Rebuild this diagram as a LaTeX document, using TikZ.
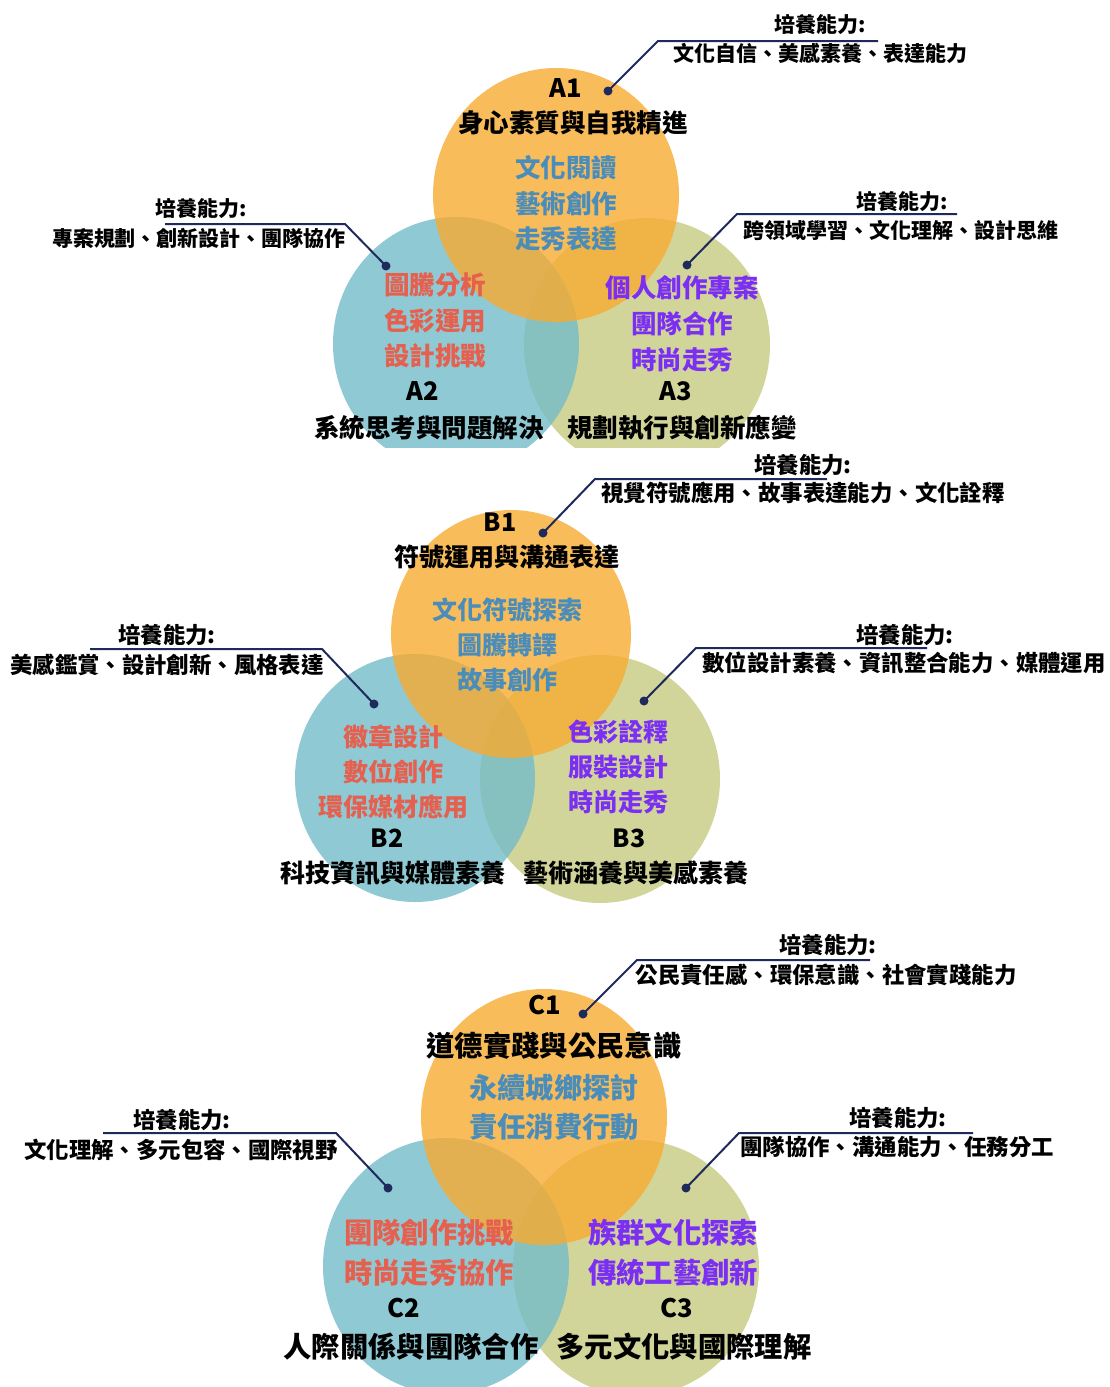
\documentclass[tikz,border=0pt]{standalone}
\usepackage{fontspec}
\setmainfont{Noto Sans CJK TC}
\definecolor{corange}{HTML}{F8AB31}
\definecolor{cblue}{HTML}{73BBC9}
\definecolor{cgreen}{HTML}{C7CB81}
\definecolor{tblue}{HTML}{4A8DBA}
\definecolor{tred}{HTML}{E5604E}
\definecolor{tpurple}{HTML}{7B2FF2}
\definecolor{navy}{HTML}{1E2A5C}
\begin{document}
\begin{tikzpicture}[x=1pt,y=-1pt,
  circ/.style={fill opacity=0.8},
  hd/.style={font=\fontsize{25.5}{30}\selectfont\bfseries, inner sep=0pt},
  hdb/.style={font=\fontsize{25}{30}\selectfont\bfseries, inner sep=0pt},
  hdc/.style={font=\fontsize{28.3}{34}\selectfont\bfseries, inner sep=0pt},
  capt/.style={font=\fontsize{21}{25}\selectfont\bfseries, inner sep=0pt},
  captb/.style={font=\fontsize{22.4}{27}\selectfont\bfseries, inner sep=0pt},
  dotc/.style={circle, fill=navy, inner sep=0pt, minimum size=9pt},
  lead/.style={draw=navy, line width=2pt},
]
\useasboundingbox (0,0) rectangle (1109,1387);
\clip (0,0) rectangle (1109,1387);

% ---------------- Section A ----------------
\begin{scope}
\clip (0,0) rectangle (1109,447);
\fill[cgreen, circ] (647,345) ellipse [x radius=123pt, y radius=127pt];
\fill[cblue, circ] (456,344) ellipse [x radius=123pt, y radius=127pt];
\fill[corange, circ] (556,195) ellipse [x radius=123pt, y radius=127pt];
\end{scope}

\node[hd] (a1code) at (566,88) {A1};
\node[hd] (a1title) at (573,123) {身心素質與自我精進};
\node[hd, text=tblue] (a1i1) at (566,168) {文化閱讀};
\node[hd, text=tblue] (a1i2) at (566,204) {藝術創作};
\node[hd, text=tblue] (a1i3) at (566,239) {走秀表達};
\node[hd, text=tred] (a2i1) at (435,285) {圖騰分析};
\node[hd, text=tred] (a2i2) at (435,321) {色彩運用};
\node[hd, text=tred] (a2i3) at (435,356) {設計挑戰};
\node[hd, text=tpurple] (a3i1) at (682,288) {個人創作專案};
\node[hd, text=tpurple] (a3i2) at (682,324) {團隊合作};
\node[hd, text=tpurple] (a3i3) at (682,360) {時尚走秀};
\node[hd] (a2code) at (423,391) {A2};
\node[hd] (a3code) at (676,391) {A3};
\node[hd] (a2title) at (429,428) {系統思考與問題解決};
\node[hd] (a3title) at (682,428) {規劃執行與創新應變};

\node[dotc] (a1dot) at (608,91) {};
\coordinate (a1c) at (658,41);
\coordinate (a1e) at (878,41);
\draw[lead] (a1dot.center) -- (a1c) -- (a1e);
\node[capt] (a1cap) at (820,25) {培養能力:};
\node[capt] (a1txt) at (820,53) {文化自信、美感素養、表達能力};

\node[dotc] (a2dot) at (386,266) {};
\coordinate (a2c) at (345,224);
\coordinate (a2e) at (165,224);
\draw[lead] (a2dot.center) -- (a2c) -- (a2e);
\node[capt] (a2cap) at (201,209) {培養能力:};
\node[capt] (a2txt) at (199,238) {專案規劃、創新設計、團隊協作};

\node[dotc] (a3dot) at (687,265) {};
\coordinate (a3c) at (737,214);
\coordinate (a3e) at (957,214);
\draw[lead] (a3dot.center) -- (a3c) -- (a3e);
\node[capt] (a3cap) at (902,202) {培養能力:};
\node[capt] (a3txt) at (901,230) {跨領域學習、文化理解、設計思維};

% ---------------- Section B ----------------
\fill[cgreen, circ] (600,779) ellipse [x radius=120pt, y radius=124pt];
\fill[cblue, circ] (415,778) ellipse [x radius=120pt, y radius=124pt];
\fill[corange, circ] (511,634) ellipse [x radius=120pt, y radius=124pt];

\node[hdb] (b1code) at (500,522) {B1};
\node[hdb] (b1title) at (507,557) {符號運用與溝通表達};
\node[hdb, text=tblue] (b1i1) at (507,610) {文化符號探索};
\node[hdb, text=tblue] (b1i2) at (507,645) {圖騰轉譯};
\node[hdb, text=tblue] (b1i3) at (507,680) {故事創作};
\node[hdb, text=tred] (b2i1) at (393,737) {徽章設計};
\node[hdb, text=tred] (b2i2) at (393,772) {數位創作};
\node[hdb, text=tred] (b2i3) at (393,807) {環保媒材應用};
\node[hdb, text=tpurple] (b3i1) at (618,732) {色彩詮釋};
\node[hdb, text=tpurple] (b3i2) at (618,767) {服裝設計};
\node[hdb, text=tpurple] (b3i3) at (618,802) {時尚走秀};
\node[hdb] (b2code) at (387,838) {B2};
\node[hdb] (b3code) at (629,838) {B3};
\node[hdb] (b2title) at (393,873) {科技資訊與媒體素養};
\node[hdb] (b3title) at (636,873) {藝術涵養與美感素養};

\node[dotc] (b1dot) at (543,533) {};
\coordinate (b1c) at (595,479);
\coordinate (b1e) at (827,479);
\draw[lead] (b1dot.center) -- (b1c) -- (b1e);
\node[captb] (b1cap) at (803,465) {培養能力:};
\node[captb] (b1txt) at (803,493) {視覺符號應用、故事表達能力、文化詮釋};

\node[dotc] (b2dot) at (374,704) {};
\coordinate (b2c) at (322,649);
\coordinate (b2e) at (90,649);
\draw[lead] (b2dot.center) -- (b2c) -- (b2e);
\node[captb] (b2cap) at (167,635) {培養能力:};
\node[captb] (b2txt) at (167,665) {美感鑑賞、設計創新、風格表達};

\node[dotc] (b3dot) at (644,701) {};
\coordinate (b3c) at (696,648);
\coordinate (b3e) at (927,648);
\draw[lead] (b3dot.center) -- (b3c) -- (b3e);
\node[captb] (b3cap) at (905,635) {培養能力:};
\node[captb] (b3txt) at (904,663) {數位設計素養、資訊整合能力、媒體運用};

% ---------------- Section C ----------------
\fill[cgreen, circ] (636,1268) ellipse [x radius=123pt, y radius=128pt];
\fill[cblue, circ] (446,1266) ellipse [x radius=123pt, y radius=128pt];
\fill[corange, circ] (544,1117) ellipse [x radius=123pt, y radius=128pt];

\node[hd] (c1code) at (545,1005) {C1};
\node[hdc] (c1title) at (554,1046) {道德實踐與公民意識};
\node[hdc, text=tblue] (c1i1) at (554,1088) {永續城鄉探討};
\node[hdc, text=tblue] (c1i2) at (554,1127) {責任消費行動};
\node[hdc, text=tred] (c2i1) at (429,1233) {團隊創作挑戰};
\node[hdc, text=tred] (c2i2) at (429,1273) {時尚走秀協作};
\node[hdc, text=tpurple] (c3i1) at (673,1233) {族群文化探索};
\node[hdc, text=tpurple] (c3i2) at (673,1273) {傳統工藝創新};
\node[hd] (c2code) at (404,1308) {C2};
\node[hd] (c3code) at (677,1308) {C3};
\node[hdc] (c2title) at (411,1347) {人際關係與團隊合作};
\node[hdc] (c3title) at (684,1347) {多元文化與國際理解};

\node[dotc] (c1dot) at (583,1014) {};
\coordinate (c1c) at (637,960);
\coordinate (c1e) at (870,960);
\draw[lead] (c1dot.center) -- (c1c) -- (c1e);
\node[captb] (c1cap) at (828,945) {培養能力:};
\node[captb] (c1txt) at (826,975) {公民責任感、環保意識、社會實踐能力};

\node[dotc] (c2dot) at (388,1188) {};
\coordinate (c2c) at (336,1133);
\coordinate (c2e) at (103,1133);
\draw[lead] (c2dot.center) -- (c2c) -- (c2e);
\node[captb] (c2cap) at (182,1120) {培養能力:};
\node[captb] (c2txt) at (181,1150) {文化理解、多元包容、國際視野};

\node[dotc] (c3dot) at (686,1188) {};
\coordinate (c3c) at (739,1133);
\coordinate (c3e) at (973,1133);
\draw[lead] (c3dot.center) -- (c3c) -- (c3e);
\node[captb] (c3cap) at (898,1118) {培養能力:};
\node[captb] (c3txt) at (897,1147) {團隊協作、溝通能力、任務分工};
\end{tikzpicture}
\end{document}
